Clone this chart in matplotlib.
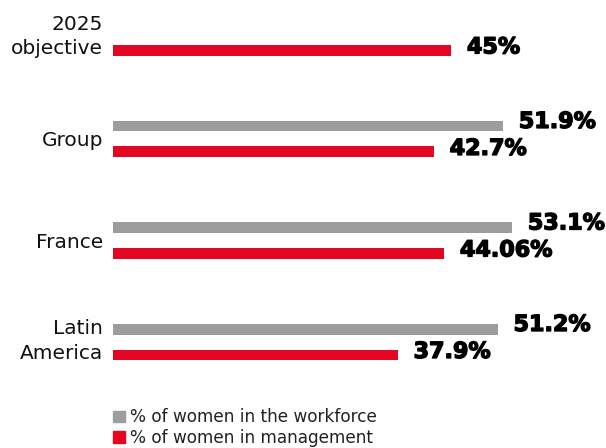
import matplotlib
matplotlib.use("Agg")
import matplotlib.pyplot as plt
import matplotlib.transforms as mtransforms
from matplotlib.patches import Patch
import matplotlib.patheffects as pe

categories = ["2025\nobjective", "Group", "France", "Latin\nAmerica"]
workforce = [None, 51.9, 53.1, 51.2]
management = [45, 42.7, 44.06, 37.9]
management_labels = ["45%", "42.7%", "44.06%", "37.9%"]
workforce_labels = [None, "51.9%", "53.1%", "51.2%"]
legend_labels = ["% of women in the workforce", "% of women in management"]

GRAY = "#9d9d9c"
RED = "#e30521"

fig = plt.figure(figsize=(6.06, 4.48), dpi=100)
ax = fig.add_axes([113 / 606, 0, 1 - 113 / 606, 1])
ax.set_xlim(0, 65.6)
ax.set_ylim(4.044, -0.369)

off = 0.128
h = 0.108
label_font = dict(family="DejaVu Sans", weight="bold", fontsize=16, color="black",
                  path_effects=[pe.withStroke(linewidth=1.0, foreground="black")])

for i, (w, m) in enumerate(zip(workforce, management)):
    if w is not None:
        ax.barh(i - off, w, height=h, color=GRAY)
        ax.text(w + 2.1, i - off - 0.04, workforce_labels[i], va="center", ha="left", **label_font)
    ax.barh(i + off, m, height=h, color=RED)
    ax.text(m + 2.1, i + off - 0.03, management_labels[i], va="center", ha="left", **label_font)

ax.set_yticks(range(len(categories)))
ax.set_yticklabels(categories, fontsize=14.5, family="DejaVu Sans", color="#111111")
ax.tick_params(axis="y", length=0, pad=7)
ax.tick_params(axis="x", length=0, labelbottom=False)

# two-line category names sit a little higher with looser leading
lift = mtransforms.ScaledTranslation(0, 4 / 72, fig.dpi_scale_trans)
for lbl in ax.get_yticklabels():
    if "\n" in lbl.get_text():
        lbl.set_linespacing(1.35)
        lbl.set_transform(lbl.get_transform() + lift)

for s in ax.spines.values():
    s.set_visible(False)

handles = [Patch(color=GRAY), Patch(color=RED)]
fig.legend(handles, legend_labels, loc="upper left", bbox_to_anchor=(105 / 606, 1 - 400 / 448),
           frameon=False, borderpad=0, handlelength=0.7, handleheight=0.7, handletextpad=0.3,
           labelspacing=0.15, prop=dict(family="DejaVu Sans", size=12.2),
           labelcolor="#222222")

fig.savefig("out.png", dpi=100)
